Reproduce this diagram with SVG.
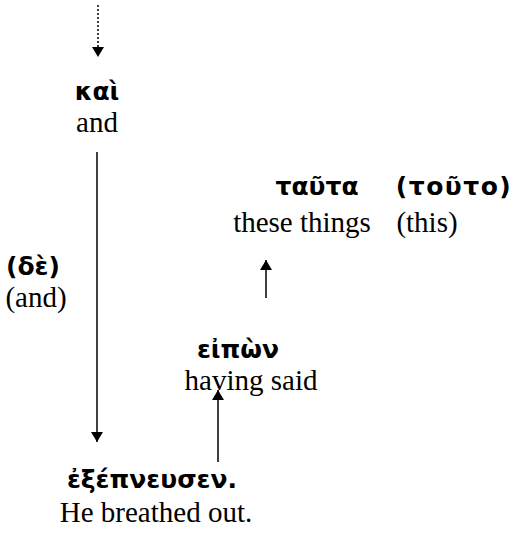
<svg xmlns="http://www.w3.org/2000/svg" width="518" height="535" viewBox="0 0 518 535">
<style>
.gk{font-family:"DejaVu Sans","Noto Sans",sans-serif;font-weight:bold;font-size:25px;fill:#000;text-anchor:middle}
.en{font-family:"Liberation Serif","Times New Roman",serif;font-size:29px;fill:#000;text-anchor:middle}
.ln{stroke:#000;stroke-width:1.5;fill:none}
</style>
<defs>
<marker id="ah" viewBox="0 0 10 12" refX="10" refY="6" markerWidth="10" markerHeight="12" markerUnits="userSpaceOnUse" orient="auto">
<path d="M0,0 L10,6 L0,12 z" fill="#000"/>
</marker>
</defs>
<g id="connectors">
<line class="ln" x1="98" y1="5" x2="98" y2="57" stroke-dasharray="2,2" marker-end="url(#ah)"/>
<line class="ln" x1="97" y1="152" x2="97" y2="442" marker-end="url(#ah)"/>
<line class="ln" x1="266" y1="298" x2="266" y2="260" marker-end="url(#ah)"/>
<line class="ln" x1="218" y1="462" x2="218" y2="390" marker-end="url(#ah)"/>
</g>
<g id="kai"><text class="gk" x="97" y="100" font-size="27">καὶ</text><text class="en" x="97" y="132">and</text></g>
<g id="de"><text class="gk" x="33" y="275">(δὲ)</text><text class="en" x="36" y="307">(and)</text></g>
<g id="tauta"><text class="gk" x="317" y="195">ταῦτα</text><text class="en" x="302" y="232">these things</text></g>
<g id="touto"><text class="gk" x="454" y="195" letter-spacing="1.5">(τοῦτο)</text><text class="en" x="427" y="232">(this)</text></g>
<g id="eipon"><text class="gk" x="238" y="358">εἰπὼν</text><text class="en" x="251" y="390">having said</text></g>
<g id="exepneusen"><text class="gk" x="152" y="488">ἐξέπνευσεν.</text><text class="en" x="156" y="522">He breathed out.</text></g>
</svg>
